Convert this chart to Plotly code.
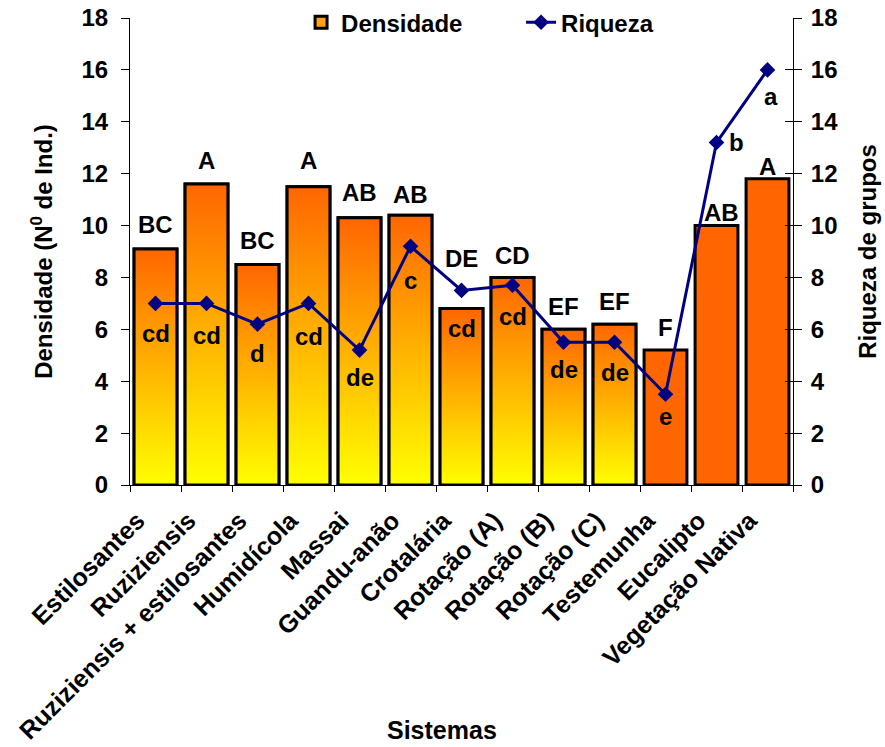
import plotly.graph_objects as go

# ---------------- data ----------------
sistemas = ["Estilosantes", "Ruziziensis", "Ruziziensis + estilosantes", "Humidícola",
            "Massai", "Guandu-anão", "Crotalária", "Rotação (A)", "Rotação (B)",
            "Rotação (C)", "Testemunha", "Eucalipto", "Vegetação Nativa"]
densidade = [9.1, 11.6, 8.5, 11.5, 10.3, 10.4, 6.8, 8.0, 6.0, 6.2, 5.2, 10.0, 11.8]
riqueza = [7.0, 7.0, 6.2, 7.0, 5.2, 9.2, 7.5, 7.7, 5.5, 5.5, 3.5, 13.2, 16.0]
letras_densidade = ["BC", "A", "BC", "A", "AB", "AB", "DE", "CD", "EF", "EF", "F", "AB", "A"]
letras_riqueza = ["cd", "cd", "d", "cd", "de", "c", "cd", "cd", "de", "de", "e", "b", "a"]
y_ticks = [0, 2, 4, 6, 8, 10, 12, 14, 16, 18]

# ---------------- style ----------------
FONT = "Liberation Sans, Arial, Helvetica, sans-serif"
ORANGE = "#FF6600"
YELLOW = "#FFFF00"
NAVY = "#000080"
BAR_W = 0.84
FS = 24
gradient_fill = [True] * 10 + [False] * 3
up_dy = [24, 24, 24, 26, 25, 21, 50, 22, 23, 23, 23, 13, 12]
up_dx = [0] * 11 + [5, 0]
low_dy = [-30, -32, -29, -33, -27, -34, -38, -31, -27, -30, -22, 0, -27]
low_dx = [0] * 11 + [20, 3]

idx = list(range(len(sistemas)))

fig = go.Figure()

# Bars (data marks)
bar_colors = ["#FFA31A" if g else ORANGE for g in gradient_fill]
fig.add_trace(go.Bar(
    x=idx, y=densidade, width=BAR_W, name="Densidade",
    marker=dict(color=bar_colors, line=dict(color="black", width=3)),
    hoverinfo="x+y",
))

# Gradient fill overlay for the first bars (same geometry as the bars, from the data)
for i, (v, g) in enumerate(zip(densidade, gradient_fill)):
    if not g:
        continue
    x0, x1 = i - BAR_W / 2, i + BAR_W / 2
    fig.add_trace(go.Scatter(
        x=[x0, x1, x1, x0, x0], y=[0, 0, v, v, 0],
        mode="lines", fill="toself",
        fillgradient=dict(type="vertical", colorscale=[[0, YELLOW], [1, ORANGE]]),
        line=dict(color="black", width=3),
        showlegend=False, hoverinfo="skip",
    ))

# Riqueza line
fig.add_trace(go.Scatter(
    x=idx, y=riqueza, yaxis="y2", name="Riqueza",
    mode="lines+markers",
    line=dict(color=NAVY, width=3),
    marker=dict(symbol="diamond", size=12, color=NAVY),
))

# invisible helper trace so the inner tick marks of the right axis are drawn
fig.add_trace(go.Scatter(x=[None], y=[None], yaxis="y3", showlegend=False, hoverinfo="skip"))

txt_font = dict(size=FS, family=FONT, color="black", weight="bold")
xt_font = dict(size=25, family=FONT, color="black", weight="bold")
ann = []
for i in idx:
    ann.append(dict(x=i, y=densidade[i], xref="x", yref="y", text=letras_densidade[i],
                    showarrow=False, xanchor="center", yanchor="middle",
                    xshift=up_dx[i], yshift=up_dy[i], font=txt_font))
    ann.append(dict(x=i, y=riqueza[i], xref="x", yref="y2", text=letras_riqueza[i],
                    showarrow=False, xanchor="center", yanchor="middle",
                    xshift=low_dx[i], yshift=low_dy[i], font=txt_font))
ann.append(dict(x=0.47, y=-0.525, xref="paper", yref="paper", text="Sistemas",
                showarrow=False, xanchor="center", yanchor="middle", font=xt_font))

axis_common = dict(range=[0, 18], tickmode="array", tickvals=y_ticks,
                   showline=True, linecolor="black", linewidth=1,
                   ticks="outside", ticklen=8, tickcolor="black",
                   showgrid=False, zeroline=False, automargin=False,
                   tickfont=txt_font)

fig.update_layout(
    width=885, height=747,
    margin=dict(l=130, r=92, t=18, b=262, autoexpand=False),
    plot_bgcolor="white", paper_bgcolor="white",
    font=txt_font,
    showlegend=True,
    legend=dict(orientation="h", x=0.258, xanchor="left", y=0.99, yanchor="middle",
                bgcolor="rgba(0,0,0,0)", font=txt_font, entrywidth=175,
                traceorder="normal"),
    xaxis=dict(range=[-0.5, 12.5], tickmode="array", tickvals=idx, ticktext=sistemas,
               tickangle=-45, ticks="", showline=True, linecolor="black", linewidth=1,
               showgrid=False, zeroline=False, automargin=False,
               ticklabelshift=-18, ticklabelstandoff=10,
               tickfont=xt_font,
               minor=dict(tickmode="linear", tick0=-0.5, dtick=1, ticks="outside",
                          ticklen=6, tickcolor="black", tickwidth=1, showgrid=False)),
    yaxis=dict(**axis_common, ticklabelstandoff=8,
               title=dict(text="Densidade (N<sup>0</sup> de Ind.)", standoff=22,
                          font=txt_font)),
    yaxis2=dict(**axis_common, overlaying="y", side="right", ticklabelstandoff=4,
                title=dict(text="Riqueza de grupos", standoff=22, font=txt_font)),
    yaxis3=dict(range=[0, 18], tickmode="array", tickvals=y_ticks, overlaying="y",
                side="right", ticks="inside", ticklen=8, tickcolor="black",
                showticklabels=False, showline=False, showgrid=False, zeroline=False,
                automargin=False),
    annotations=ann,
)

fig.write_html("out.html", config={"displayModeBar": False},
               post_script="document.body.style.margin='0';document.body.style.overflow='hidden';")
